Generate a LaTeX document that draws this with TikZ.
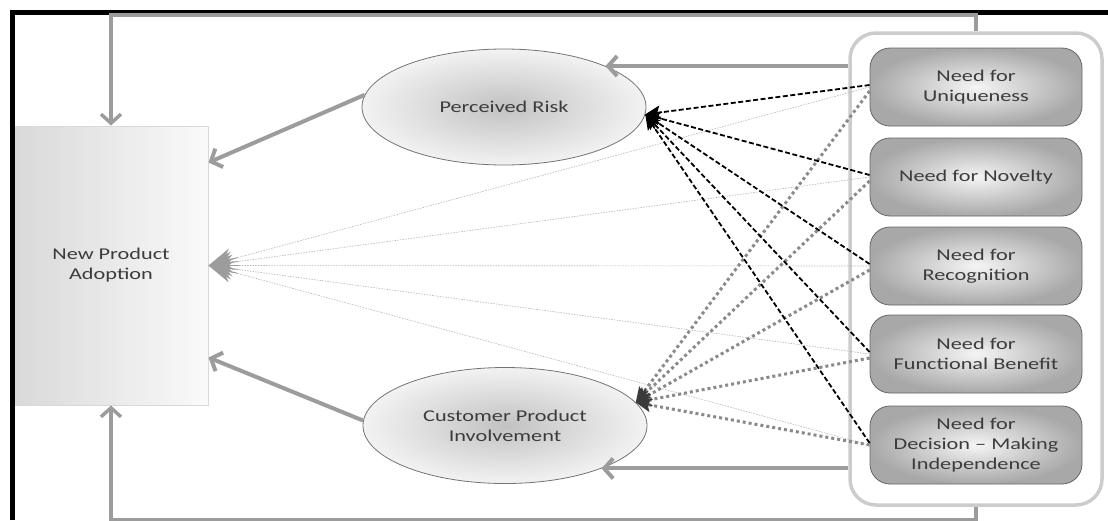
\documentclass[tikz,border=0pt]{standalone}
\usepackage{fontspec}
\newfontfamily\labfont[FakeStretch=1.35]{Carlito}
\usetikzlibrary{arrows.meta,shapes.geometric,calc}
\definecolor{arrgray}{HTML}{9C9C9C}
\definecolor{txtgray}{HTML}{3C3C3C}
\definecolor{dotgray}{HTML}{8A8A8A}
\definecolor{thingray}{HTML}{B4B4B4}
\definecolor{tipdark}{HTML}{3A3A3A}
\tikzset{
  lab/.style={font=\labfont\fontsize{16.5}{20}\selectfont, text=txtgray, align=center},
  npabox/.style={lab, draw=black!15, line width=1pt, left color=black!15, right color=black!2,
     minimum width=194pt, minimum height=279pt, inner sep=0pt},
  ell/.style={lab, ellipse, draw=black!55, line width=0.8pt, inner color=black!24, outer color=black!5,
     minimum width=284pt, minimum height=116pt, inner sep=0pt},
  contbox/.style={draw=black!20, line width=3.5pt, fill=white, rounded corners=26pt,
     minimum width=252pt, minimum height=472pt, inner sep=0pt},
  needbox/.style={lab, draw=black!60, line width=0.8pt, rounded corners=20pt, inner color=black!4, outer color=black!34,
     minimum width=212pt, minimum height=78pt, inner sep=0pt},
  garrow/.style={draw=arrgray, line width=4pt, -{Straight Barb[length=9pt,width=20pt]}},
  riskline/.style={draw=black, line width=1.8pt, dash pattern=on 5pt off 2.5pt, shorten >=8pt},
  risktip/.style={draw=black, fill=black, line width=1.2pt, -{Stealth[length=15pt,width=14pt,inset=3pt]}},
  involveline/.style={draw=dotgray, line width=3pt, dash pattern=on 3pt off 3pt, shorten >=8pt},
  involvetip/.style={draw=tipdark, fill=tipdark, line width=1.2pt, -{Stealth[length=15pt,width=14pt,inset=3pt]}},
  adoptline/.style={draw=thingray, line width=0.6pt, dash pattern=on 1.5pt off 1.2pt, shorten >=10pt},
  adopttip/.style={draw=arrgray, fill=arrgray, line width=0.8pt, -{Stealth[length=24pt,width=22pt,inset=9pt]}},
  frameline/.style={draw=black, line width=5pt}
}
\begin{document}
\begin{tikzpicture}[x=1pt,y=-1pt]
\useasboundingbox (0,0) rectangle (1108,520);
% nodes
\node[npabox] (npa) at (111,265.5) {New Product\\Adoption};
\node[ell] (pr) at (504,107) {Perceived Risk};
\node[ell] (cpi) at (505,425.5) {Customer Product\\Involvement};
\node[contbox] (cont) at (976,269) {};
\node[needbox] (b1) at (976,87) {Need for\\Uniqueness};
\node[needbox] (b2) at (976,177) {Need for Novelty};
\node[needbox] (b3) at (976,266) {Need for\\Recognition};
\node[needbox] (b4) at (976,354) {Need for\\Functional Benefit};
\node[needbox] (b5) at (976,445) {Need for\\Decision – Making\\Independence};
% frame
\coordinate (fbl) at (12,520);
\coordinate (ftl) at (12,12.5);
\coordinate (ftr) at (1108,12.5);
\draw[frameline] (fbl) -- (ftl) -- (ftr);
% feedback loops
\draw[garrow, line width=3.5pt] (cont.north) -- ++(0,-16.5) -| (npa.north);
\draw[garrow, line width=3.5pt] (cont.south) -- ++(0,13) -| (npa.south);
% container to ellipses
\draw[garrow] (cont.west |- pr.22) -- (pr.22);
\draw[garrow] (cont.west |- cpi.-24) -- (cpi.-24);
% ellipses to adoption
\draw[garrow] (pr.175) -- ($(npa.north east)+(0,37)$);
\draw[garrow] (cpi.178) -- ($(npa.south east)+(0,-48)$);
% thin dotted to adoption
\foreach \b in {b1,b2,b3,b4,b5}{
  \draw[adoptline] (\b.west) -- (npa.east);
  \draw[adopttip] ($(npa.east)!30pt!(\b.west)$) -- (npa.east);
}
% thick dotted to involvement
\foreach \b/\dy in {b1/4,b2/4,b3/4,b4/4,b5/0}{
  \draw[involveline] ($(\b.west)+(0,\dy)$) -- (cpi.10);
  \draw[involvetip] ($(cpi.10)!17pt!($(\b.west)+(0,\dy)$)$) -- (cpi.10);
}
% dashed to risk
\foreach \b in {b1,b2,b3,b4,b5}{
  \draw[riskline] ($(\b.west)+(0,-2)$) -- (pr.-3);
  \draw[risktip] ($(pr.-3)!17pt!($(\b.west)+(0,-2)$)$) -- (pr.-3);
}
\end{tikzpicture}
\end{document}
